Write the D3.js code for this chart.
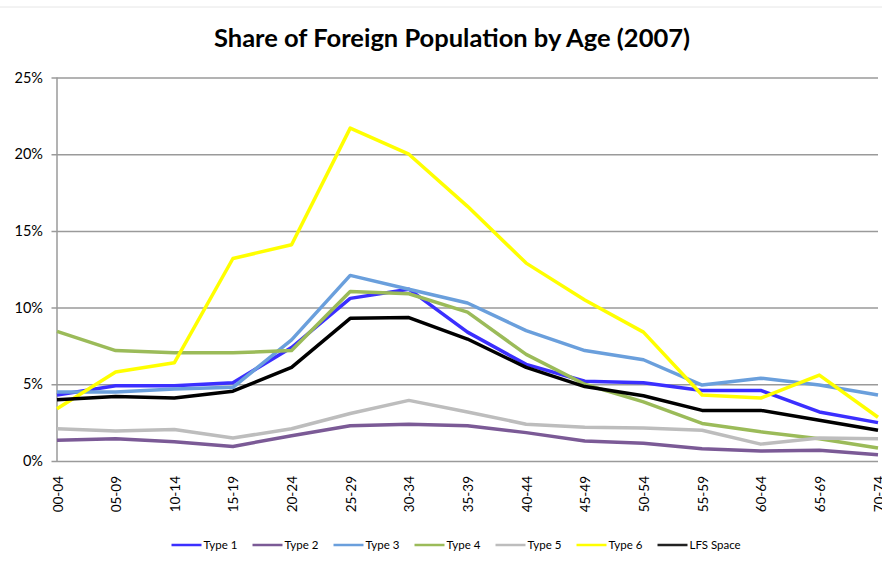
<!DOCTYPE html>
<html>
<head>
<meta charset="utf-8">
<script src="https://cdn.jsdelivr.net/npm/d3@7"></script>
<style>
  body { margin: 0; background: #fff; }
  svg { display: block; font-family: Lato, "Open Sans", sans-serif; }
</style>
</head>
<body>
<div id="chart-area"></div>
<script>
// age groups on the x axis
var ages = ["00-04", "05-09", "10-14", "15-19", "20-24", "25-29", "30-34", "35-39",
            "40-44", "45-49", "50-54", "55-59", "60-64", "65-69", "70-74"];

// shares in percent
var type1 = [4.3, 4.9, 4.9, 5.1, 7.4, 10.6, 11.2, 8.4, 6.3, 5.2, 5.1, 4.6, 4.6, 3.2, 2.5];
var type2 = [1.35, 1.45, 1.25, 0.95, 1.65, 2.3, 2.4, 2.3, 1.85, 1.3, 1.15, 0.8, 0.65, 0.7, 0.4];
var type3 = [4.5, 4.5, 4.7, 4.8, 7.9, 12.1, 11.2, 10.3, 8.5, 7.2, 6.6, 4.95, 5.4, 4.95, 4.3];
var type4 = [8.45, 7.2, 7.05, 7.05, 7.2, 11.05, 10.9, 9.7, 6.95, 5.0, 3.85, 2.45, 1.9, 1.45, 0.85];
var type5 = [2.1, 1.95, 2.05, 1.5, 2.1, 3.1, 3.95, 3.2, 2.4, 2.2, 2.15, 2.0, 1.1, 1.5, 1.45];
var type6 = [3.4, 5.8, 6.4, 13.2, 14.1, 21.7, 20.0, 16.6, 12.9, 10.5, 8.4, 4.3, 4.1, 5.6, 2.85];
var lfs   = [4.0, 4.2, 4.1, 4.55, 6.1, 9.3, 9.35, 7.95, 6.1, 4.85, 4.25, 3.3, 3.3, 2.65, 2.0];

var seriesNames = ["Type 1", "Type 2", "Type 3", "Type 4", "Type 5", "Type 6", "LFS Space"];
var seriesValues = [type1, type2, type3, type4, type5, type6, lfs];
var seriesColors = ["#3b2fff", "#7b5a96", "#6a9fdc", "#9bbb59", "#bdbdbd", "#ffff00", "#000000"];
var yTicks = [0, 5, 10, 15, 20, 25];

var width = 882, height = 563;
var margin = {top: 77.5, right: 4, bottom: 102, left: 57};

var svg = d3.select("#chart-area")
            .append("svg")
            .attr("width", width)
            .attr("height", height);

// faint outer frame of the chart
svg.append("line")
   .attr("x1", 0).attr("x2", width)
   .attr("y1", 7).attr("y2", 7)
   .attr("stroke", "#e6e6e6");

svg.append("text")
   .attr("x", 452)
   .attr("y", 47)
   .attr("text-anchor", "middle")
   .attr("font-size", "25.5px")
   .attr("font-weight", "bold")
   .attr("fill", "#000")
   .text("Share of Foreign Population by Age (2007)");

var x = d3.scalePoint().domain(ages).range([margin.left, width - margin.right]);
var y = d3.scaleLinear().domain([0, 25]).range([height - margin.bottom, margin.top]);

// gridlines + y axis
var yAxis = svg.append("g")
   .attr("transform", "translate(" + margin.left + ",0)")
   .call(d3.axisLeft(y).tickValues(yTicks).tickFormat(function(d) { return d + "%"; })
          .tickSize(-(width - margin.right - margin.left)).tickPadding(14));
yAxis.select(".domain").remove();
yAxis.selectAll(".tick line")
     .attr("stroke", "#9a9a9a").attr("stroke-width", 1.5)
     .attr("x1", -5.5);
yAxis.selectAll(".tick text")
     .attr("font-size", "14.5px").attr("fill", "#000")
     .attr("font-family", "Lato, sans-serif");

svg.append("line")
   .attr("x1", margin.left).attr("x2", margin.left)
   .attr("y1", y(25)).attr("y2", y(0))
   .attr("stroke", "#9a9a9a").attr("stroke-width", 1.5);

// x axis labels (rotated)
var xAxis = svg.append("g")
   .attr("transform", "translate(0," + y(0) + ")")
   .call(d3.axisBottom(x).tickSize(0).tickPadding(0));
xAxis.select(".domain").remove();
xAxis.selectAll(".tick text")
     .attr("font-size", "13.5px").attr("fill", "#000")
     .attr("font-family", "Lato, sans-serif")
     .attr("text-anchor", "end")
     .attr("dy", null)
     .attr("transform", "translate(5,15) rotate(-90)");

// lines
var line = d3.line()
    .x(function(d, i) { return x(ages[i]); })
    .y(function(d) { return y(d); });

for (let s = 0; s < seriesValues.length; s++) {
    svg.append("path")
       .datum(seriesValues[s])
       .attr("fill", "none")
       .attr("stroke", seriesColors[s])
       .attr("stroke-width", 3.5)
       .attr("stroke-linejoin", "round")
       .attr("d", line);
}

// legend
var legend = svg.append("g").attr("transform", "translate(171.5,545)");
var item = legend.selectAll(".item")
    .data(seriesNames)
    .enter().append("g")
    .attr("transform", function(d, i) { return "translate(" + (i * 81) + ",0)"; });
item.append("line")
    .attr("x1", 0).attr("x2", 30)
    .attr("stroke", function(d, i) { return seriesColors[i] == "#000000" ? "#222" : seriesColors[i]; })
    .attr("stroke-width", 2.5);
item.append("text")
    .attr("x", 32)
    .attr("y", 4)
    .attr("font-size", "11.5px")
    .attr("fill", "#000")
    .text(function(d) { return d; });
</script>
</body>
</html>
